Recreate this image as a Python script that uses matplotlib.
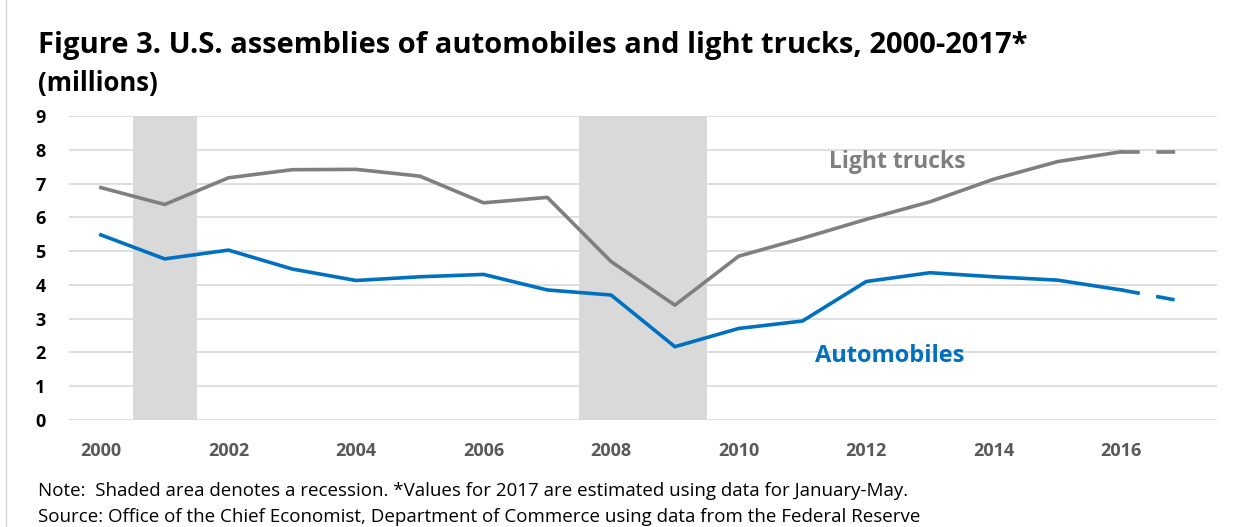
import matplotlib.pyplot as plt
import numpy as np

years = list(range(2000, 2018))
light_trucks = [6.88, 6.38, 7.17, 7.41, 7.42, 7.22, 6.43, 6.59, 4.69, 3.40,
                4.85, 5.38, 5.94, 6.46, 7.13, 7.65, 7.94, 7.94]
automobiles = [5.48, 4.77, 5.03, 4.47, 4.13, 4.24, 4.31, 3.85, 3.70, 2.17,
               2.71, 2.93, 4.10, 4.36, 4.24, 4.14, 3.85, 3.50]
recessions = [(2001, 2001), (2008, 2009)]

BLUE = '#0070C0'
GRAY = '#7F7F7F'
SHADE = '#D9D9D9'

plt.rcParams['font.family'] = ['Open Sans', 'DejaVu Sans']

fig = plt.figure(figsize=(12.44, 5.27), dpi=100)
ax = fig.add_axes([69 / 1244, 1 - 420 / 527, (1217 - 69) / 1244, (420 - 116) / 527])

x = np.arange(len(years))
# recession shading covers whole category slots
for start, end in recessions:
    ax.axvspan(years.index(start) - 0.5, years.index(end) + 0.5, color=SHADE, lw=0, zorder=1)

# solid through 2016, dashed for the 2017 estimate
dash = (0, (5.2, 4.6))
ax.plot(x[:-1], light_trucks[:-1], color=GRAY, lw=2.6, zorder=3)
ax.plot(x[-2:], light_trucks[-2:], color=GRAY, lw=2.6, zorder=3, linestyle=dash)
ax.plot(x[:-1], automobiles[:-1], color=BLUE, lw=2.6, zorder=3)
ax.plot(x[-2:], automobiles[-2:], color=BLUE, lw=2.6, zorder=3, linestyle=dash)

ax.set_xlim(-0.5, len(years) - 0.5)
ax.set_ylim(0, 9)
ax.set_yticks(range(0, 10))
ax.yaxis.grid(True, color=SHADE, lw=1.2, zorder=0)
ax.set_axisbelow(True)
ax.set_xticks(x[::2])
ax.set_xticklabels([str(y) for y in years[::2]])
for s in ax.spines.values():
    s.set_visible(False)
ax.tick_params(length=0)
ax.tick_params(axis='y', labelsize=13, pad=17, labelcolor='black')
ax.tick_params(axis='x', labelsize=13, pad=16, labelcolor='#595959')
for lbl in ax.get_yticklabels() + ax.get_xticklabels():
    lbl.set_fontweight('bold')

ax.text(12.49, 7.65, 'Light trucks', color=GRAY, fontsize=16.5, fontweight='bold', ha='center', va='center')
ax.text(12.37, 1.9, 'Automobiles', color=BLUE, fontsize=17, fontweight='bold', ha='center', va='center')

fig.text(38 / 1244, 1 - 45 / 527, 'Figure 3. U.S. assemblies of automobiles and light trucks, 2000-2017*',
         fontsize=21, fontweight='bold', va='center', ha='left')
fig.text(38 / 1244, 1 - 83 / 527, '(millions)', fontsize=18.5, fontweight='bold', va='center', ha='left')
fig.text(38 / 1244, 1 - 491 / 527,
         'Note:  Shaded area denotes a recession. *Values for 2017 are estimated using data for January-May.',
         fontsize=13.5, va='center', ha='left')
fig.text(38 / 1244, 1 - 517 / 527,
         'Source: Office of the Chief Economist, Department of Commerce using data from the Federal Reserve',
         fontsize=13.5, va='center', ha='left')

fig.add_artist(plt.Line2D([6 / 1244, 6 / 1244], [0, 1], color=SHADE, lw=1))

fig.savefig('out.png', dpi=100)
